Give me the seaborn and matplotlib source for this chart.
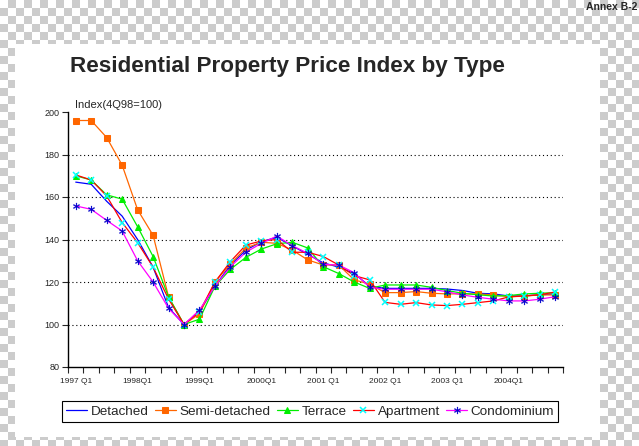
import numpy as np
import pandas as pd
import seaborn as sns
import matplotlib.pyplot as plt
from matplotlib.colors import ListedColormap
from matplotlib.patches import Rectangle

# Quarterly index values, 4Q98 = 100
quarters = [f"{y}Q{q}" for y in range(1997, 2005) for q in range(1, 5)]
tick_labels = ["1997 Q1", "1998Q1", "1999Q1", "2000Q1", "2001 Q1", "2002 Q1", "2003 Q1", "2004Q1"]

detached = [167, 166, 158, 151, 140, 127, 108, 100, 106, 118, 128, 135,
            139, 141, 137, 133, 129, 127, 124, 118, 117, 117, 117, 117,
            116.7, 116, 114.7, 114.4, 113.4, 113.5, 114, 114.4]
semi_detached = [196, 196, 188, 175, 154, 142, 113, 100, 105, 120, 128.5, 136,
                 138.7, 138.2, 135, 130.4, 128, 128, 121, 119, 115, 115, 115.5, 114.7,
                 114.4, 114.4, 114.4, 113.9, 113.1, 113.4, 113.9, 113.9]
terrace = [170, 168, 161, 159, 146, 132, 113, 100, 102.5, 118, 126, 131.6,
           135.5, 138, 138.7, 136, 127.2, 124, 120, 117, 118.6, 118.6, 118.6, 117.5,
           116, 114.7, 114, 113.4, 113.6, 114.4, 114.7, 115]
apartment = [170.4, 168, 160.5, 148, 138.5, 127, 112, 100, 106, 120, 129.6, 137.4,
             139.3, 140, 134, 134, 132, 128, 123, 121, 110.4, 109.5, 110.3, 109.2,
             108.9, 109.5, 110.3, 111.1, 113, 113.4, 114, 115.3]
condominium = [155.8, 154.2, 149, 144, 130, 120, 107.6, 100, 106.8, 118, 127.2, 134,
               138.2, 141.6, 137.1, 133.5, 128.3, 128, 124.4, 117.5, 116.6, 116.6, 116.6, 116.6,
               115.4, 113.9, 112.8, 111.9, 111.1, 111.1, 111.9, 113.1]

df = pd.DataFrame({
    "quarter": quarters,
    "pos": np.arange(len(quarters)),
    "Detached": detached,
    "Semi-detached": semi_detached,
    "Terrace": terrace,
    "Apartment": apartment,
    "Condominium": condominium,
})

styles = {
    "Detached": dict(color="#0000ff"),
    "Semi-detached": dict(color="#ff6600", marker="s", markersize=4.5,
                          markerfacecolor="#ff6600", markeredgecolor="#ff6600"),
    "Terrace": dict(color="#00ee00", marker="^", markersize=5,
                    markerfacecolor="#00ee00", markeredgecolor="#00ee00"),
    "Apartment": dict(color="#ff0000", marker="x", markersize=5,
                      markeredgecolor="#00ffff", markeredgewidth=1.1),
    "Condominium": dict(color="#ff00ff", marker="$\u2217$", markersize=5,
                        markerfacecolor="#0000cc", markeredgecolor="#0000cc",
                        markeredgewidth=0.2),
}

sns.set_style("white")
plt.rcParams['font.family'] = ['Liberation Sans', 'DejaVu Sans']

fig = plt.figure(figsize=(6.39, 4.46), dpi=100)

# transparent-looking checkered backdrop with white panel
bg = fig.add_axes([0, 0, 1, 1], zorder=-10)
checker = np.add.outer(np.arange(56), np.arange(80)) % 2
bg.imshow(checker, cmap=ListedColormap(["white", "#cccccc"]),
          extent=[0, 640, 448, 0], interpolation="nearest", aspect="auto")
bg.add_patch(Rectangle((15, 44), 585, 393, facecolor="white", edgecolor="none"))
bg.set_xlim(0, 639)
bg.set_ylim(446, 0)
bg.axis("off")

ax = fig.add_axes([68 / 639, 79 / 446, 495 / 639, 255 / 446])
ax.set_facecolor("none")

for name, kw in styles.items():
    sns.lineplot(data=df, x="pos", y=name, ax=ax, lw=0.9, label=name, legend=False, **kw)

yticks = [80, 100, 120, 140, 160, 180, 200]
for v in yticks[1:-1]:
    ax.axhline(v, color="black", lw=0.8, ls=(0, (1, 2.5)), zorder=0)

ax.set_xlim(-0.5, len(quarters) - 0.5)
ax.set_ylim(80, 200)
ax.set_yticks(yticks)
ax.set_xticks(df["pos"][::4])
ax.set_xticklabels(tick_labels)
ax.set_xticks(np.arange(-0.5, len(quarters), 1), minor=True)
ax.tick_params(axis="y", direction="out", length=4, width=0.8, labelsize=6.5, pad=2, left=True)
ax.tick_params(axis="x", which="major", length=0, labelsize=6, pad=8)
ax.tick_params(axis="x", which="minor", direction="out", length=4, width=0.8, bottom=True)
ax.set_xlabel("")
ax.set_ylabel("")
for s in ["top", "right"]:
    ax.spines[s].set_visible(False)
for s in ["left", "bottom"]:
    ax.spines[s].set_color("black")
    ax.spines[s].set_linewidth(1)

fig.text(70 / 639, 1 - 72 / 446, "Residential Property Price Index by Type",
         fontsize=16.2, fontweight="bold", ha="left", va="baseline")
fig.text(75 / 639, 1 - 108 / 446, "Index(4Q98=100)", fontsize=8, ha="left", va="baseline")
fig.text(637 / 639, 1 - 10 / 446, "Annex B-2", fontsize=7.5, fontweight="bold",
         ha="right", va="baseline")

handles, labels = ax.get_legend_handles_labels()
leg = fig.legend(handles, labels, loc="center", bbox_to_anchor=(310 / 639, 1 - 411.5 / 446),
                 ncol=5, frameon=True, fancybox=False, edgecolor="black", framealpha=1,
                 fontsize=9.7, handlelength=1.6, handletextpad=0.25, columnspacing=0.45,
                 borderpad=0.3, borderaxespad=0)
leg.get_frame().set_linewidth(0.8)

fig.savefig("out.png", dpi=100)
